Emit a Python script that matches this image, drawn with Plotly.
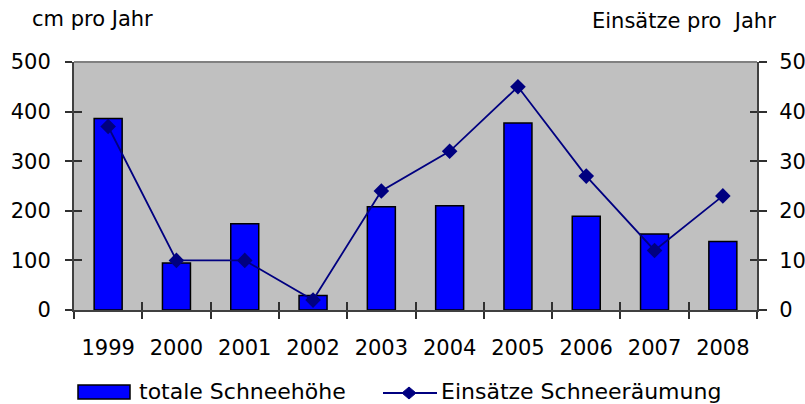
import plotly.graph_objects as go

years = ["1999", "2000", "2001", "2002", "2003", "2004", "2005", "2006", "2007", "2008"]
schneehoehe = [386, 95, 174, 29, 208, 210, 377, 189, 153, 138]
einsaetze = [37, 10, 10, 2, 24, 32, 45, 27, 12, 23]

FONT = "DejaVu Sans, Verdana, sans-serif"
W, H = 805, 404
L, R, T, B = 74, 757, 62, 310  # plot area in pixels


def px(x):
    return (x - L) / (R - L)


def py(y):
    return (B - y) / (B - T)


fig = go.Figure()
fig.add_trace(go.Bar(
    x=years, y=schneehoehe, name="totale Schneehöhe",
    marker=dict(color="#0000FF", line=dict(color="#000000", width=1.5)),
    width=0.41, yaxis="y", showlegend=False,
))
fig.add_trace(go.Scatter(
    x=years, y=einsaetze, name="Einsätze Schneeräumung",
    mode="lines+markers",
    line=dict(color="#000080", width=1.8),
    marker=dict(symbol="diamond", size=12, color="#000080"),
    yaxis="y2", showlegend=False,
))
# invisible helper traces so the overlay axes (inner tick halves) are drawn
fig.add_trace(go.Scatter(x=years, y=schneehoehe, xaxis="x2", yaxis="y3", mode="markers",
                         marker=dict(opacity=0), hoverinfo="skip", showlegend=False))
fig.add_trace(go.Scatter(x=years, y=einsaetze, xaxis="x2", yaxis="y4", mode="markers",
                         marker=dict(opacity=0), hoverinfo="skip", showlegend=False))

axline = dict(showline=True, linecolor="#404040", linewidth=2, showgrid=False,
              zeroline=False, automargin=False)
noline = dict(showline=False, showgrid=False, zeroline=False, automargin=False,
              showticklabels=False)
tickc = "#303030"
xr = [-0.5, len(years) - 0.5]

shapes = [
    dict(type="line", xref="paper", yref="paper", x0=0, x1=1, y0=1, y1=1,
         line=dict(color="#808080", width=2)),
    dict(type="rect", xref="paper", yref="paper", x0=px(78), x1=px(130), y0=py(399), y1=py(385),
         fillcolor="#0000FF", line=dict(color="#000000", width=1.5)),
    dict(type="line", xref="paper", yref="paper", x0=px(383), x1=px(437), y0=py(393), y1=py(393),
         line=dict(color="#000080", width=1.8)),
    dict(type="path", xref="paper", yref="paper",
         path=f"M {px(402)} {py(393)} L {px(409)} {py(387)} L {px(416)} {py(393)} L {px(409)} {py(399)} Z",
         fillcolor="#000080", line=dict(color="#000080", width=1)),
]

fig.update_layout(
    width=W, height=H,
    margin=dict(l=L, r=W - R, t=T, b=H - B, autoexpand=False),
    paper_bgcolor="white", plot_bgcolor="#C0C0C0",
    font=dict(family=FONT, size=21, color="black"),
    showlegend=False,
    xaxis=dict(type="category", range=xr, ticks="outside", ticklen=7, tickwidth=1.5,
               tickson="boundaries", tickcolor=tickc, ticklabelstandoff=18, **axline),
    xaxis2=dict(type="category", range=xr, overlaying="x", ticks="inside", ticklen=8,
                tickwidth=1.5, tickson="boundaries", tickcolor=tickc, **noline),
    yaxis=dict(range=[0, 500], dtick=100, ticks="outside", ticklen=7, tickwidth=1.5,
               tickcolor=tickc, ticklabelstandoff=10, **axline),
    yaxis2=dict(range=[0, 50], dtick=10, overlaying="y", side="right",
                ticks="outside", ticklen=8, tickwidth=1.5, tickcolor=tickc,
                ticklabelstandoff=8, **axline),
    yaxis3=dict(range=[0, 500], dtick=100, overlaying="y", side="left", ticks="inside",
                ticklen=8, tickwidth=1.5, tickcolor=tickc, **noline),
    yaxis4=dict(range=[0, 50], dtick=10, overlaying="y", side="right", ticks="inside",
                ticklen=7, tickwidth=1.5, tickcolor=tickc, **noline),
    shapes=shapes,
    annotations=[
        dict(text="cm pro Jahr", xref="paper", yref="paper", x=px(30), y=py(19),
             xanchor="left", yanchor="middle", showarrow=False, font=dict(size=21)),
        dict(text="Einsätze pro\u00a0 Jahr", xref="paper", yref="paper", x=px(778), y=py(21),
             xanchor="right", yanchor="middle", showarrow=False, font=dict(size=21)),
        dict(text="totale Schneehöhe", xref="paper", yref="paper", x=px(137), y=py(391),
             xanchor="left", yanchor="middle", showarrow=False, font=dict(size=22)),
        dict(text="Einsätze Schneeräumung", xref="paper", yref="paper", x=px(439), y=py(391),
             xanchor="left", yanchor="middle", showarrow=False, font=dict(size=22)),
    ],
)

fig.write_html("out.html", config=dict(displayModeBar=False),
               post_script="document.body.style.margin='0';document.body.style.overflow='hidden';")
